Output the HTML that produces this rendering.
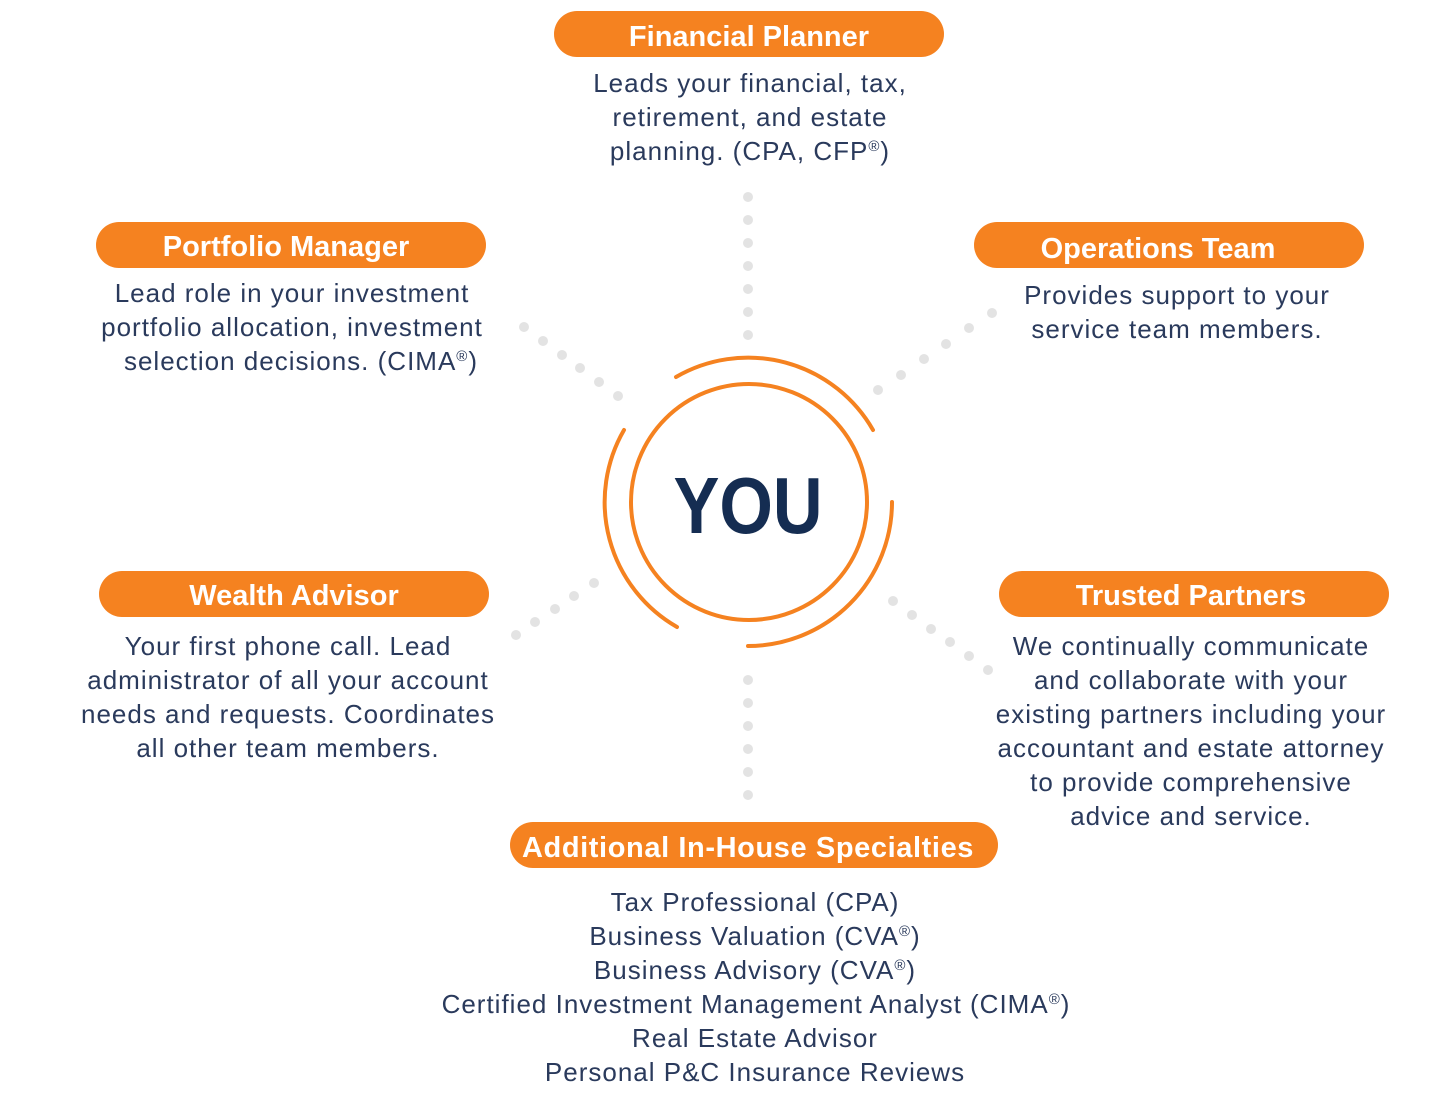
<!DOCTYPE html>
<html><head><meta charset="utf-8"><style>
html,body{margin:0;padding:0;background:#fff;}
svg{display:block;}
.t{font-family:"Liberation Sans",sans-serif;font-weight:bold;font-size:29px;fill:#fff;text-anchor:middle;}
.b{font-family:"Liberation Sans",sans-serif;font-size:26px;fill:#2a3a5c;text-anchor:middle;letter-spacing:1px;}
.r{font-size:15px;}
</style></head><body>
<svg width="1456" height="1110" viewBox="0 0 1456 1110" xmlns="http://www.w3.org/2000/svg">
<g fill="#e3e3e3">
<circle cx="748" cy="197" r="5"/><circle cx="748" cy="220" r="5"/><circle cx="748" cy="243" r="5"/><circle cx="748" cy="266" r="5"/><circle cx="748" cy="289" r="5"/><circle cx="748" cy="312" r="5"/><circle cx="748" cy="335" r="5"/>
<circle cx="748" cy="680" r="5"/><circle cx="748" cy="703" r="5"/><circle cx="748" cy="726" r="5"/><circle cx="748" cy="749" r="5"/><circle cx="748" cy="772" r="5"/><circle cx="748" cy="795" r="5"/>
<circle cx="524" cy="327" r="5"/><circle cx="543" cy="341" r="5"/><circle cx="562" cy="355" r="5"/><circle cx="580" cy="368" r="5"/><circle cx="599" cy="382" r="5"/><circle cx="618" cy="396" r="5"/>
<circle cx="992" cy="313" r="5"/><circle cx="969" cy="328" r="5"/><circle cx="946" cy="344" r="5"/><circle cx="924" cy="359" r="5"/><circle cx="901" cy="375" r="5"/><circle cx="878" cy="390" r="5"/>
<circle cx="516" cy="635" r="5"/><circle cx="535" cy="622" r="5"/><circle cx="555" cy="609" r="5"/><circle cx="574" cy="596" r="5"/><circle cx="594" cy="583" r="5"/>
<circle cx="893" cy="601" r="5"/><circle cx="912" cy="615" r="5"/><circle cx="931" cy="629" r="5"/><circle cx="950" cy="642" r="5"/><circle cx="969" cy="656" r="5"/><circle cx="988" cy="670" r="5"/>
</g>
<g fill="none" stroke="#f58220" stroke-width="4" stroke-linecap="round">
<circle cx="749" cy="502" r="118"/>
<path d="M676 377 A144 144 0 0 1 873 430"/>
<path d="M624 430 A144 144 0 0 0 677 627"/>
<path d="M892 502 A144 144 0 0 1 748 646"/>
</g>
<text x="0" y="0" transform="translate(748,533) scale(0.86,1)" font-family="Liberation Sans,sans-serif" font-weight="bold" font-size="80" fill="#152d52" text-anchor="middle">YOU</text>
<g fill="#f58220">
<rect x="554" y="11" width="390" height="46" rx="23"/>
<rect x="96" y="222" width="390" height="46" rx="23"/>
<rect x="974" y="222" width="390" height="46" rx="23"/>
<rect x="99" y="571" width="390" height="46" rx="23"/>
<rect x="999" y="571" width="390" height="46" rx="23"/>
<rect x="510" y="822" width="488" height="46" rx="23"/>
</g>
<text class="t" x="749" y="46">Financial Planner</text>
<text class="t" x="286" y="256">Portfolio Manager</text>
<text class="t" x="1158" y="258">Operations Team</text>
<text class="t" x="294" y="605">Wealth Advisor</text>
<text class="t" x="1191" y="605">Trusted Partners</text>
<text class="t" x="748" y="857" style="letter-spacing:0.6px">Additional In-House Specialties</text>
<text class="b" x="750" y="92">Leads your financial, tax,</text>
<text class="b" x="750" y="126">retirement, and estate</text>
<text class="b" x="750" y="160">planning. (CPA, CFP<tspan class="r" dy="-9">®</tspan><tspan dy="9">)</tspan></text>
<text class="b" x="292" y="302">Lead role in your investment</text>
<text class="b" x="292" y="336">portfolio allocation, investment</text>
<text class="b" x="301" y="370">selection decisions. (CIMA<tspan class="r" dy="-9">®</tspan><tspan dy="9">)</tspan></text>
<text class="b" x="1177" y="304">Provides support to your</text>
<text class="b" x="1177" y="338">service team members.</text>
<text class="b" x="288" y="655">Your first phone call. Lead</text>
<text class="b" x="288" y="689">administrator of all your account</text>
<text class="b" x="288" y="723">needs and requests. Coordinates</text>
<text class="b" x="288" y="757">all other team members.</text>
<text class="b" x="1191" y="655">We continually communicate</text>
<text class="b" x="1191" y="689">and collaborate with your</text>
<text class="b" x="1191" y="723">existing partners including your</text>
<text class="b" x="1191" y="757">accountant and estate attorney</text>
<text class="b" x="1191" y="791">to provide comprehensive</text>
<text class="b" x="1191" y="825">advice and service.</text>
<text class="b" x="755" y="911">Tax Professional (CPA)</text>
<text class="b" x="755" y="945">Business Valuation (CVA<tspan class="r" dy="-9">®</tspan><tspan dy="9">)</tspan></text>
<text class="b" x="755" y="979">Business Advisory (CVA<tspan class="r" dy="-9">®</tspan><tspan dy="9">)</tspan></text>
<text class="b" x="756" y="1013">Certified Investment Management Analyst (CIMA<tspan class="r" dy="-9">®</tspan><tspan dy="9">)</tspan></text>
<text class="b" x="755" y="1047">Real Estate Advisor</text>
<text class="b" x="755" y="1081">Personal P&amp;C Insurance Reviews</text>
</svg>
</body></html>
